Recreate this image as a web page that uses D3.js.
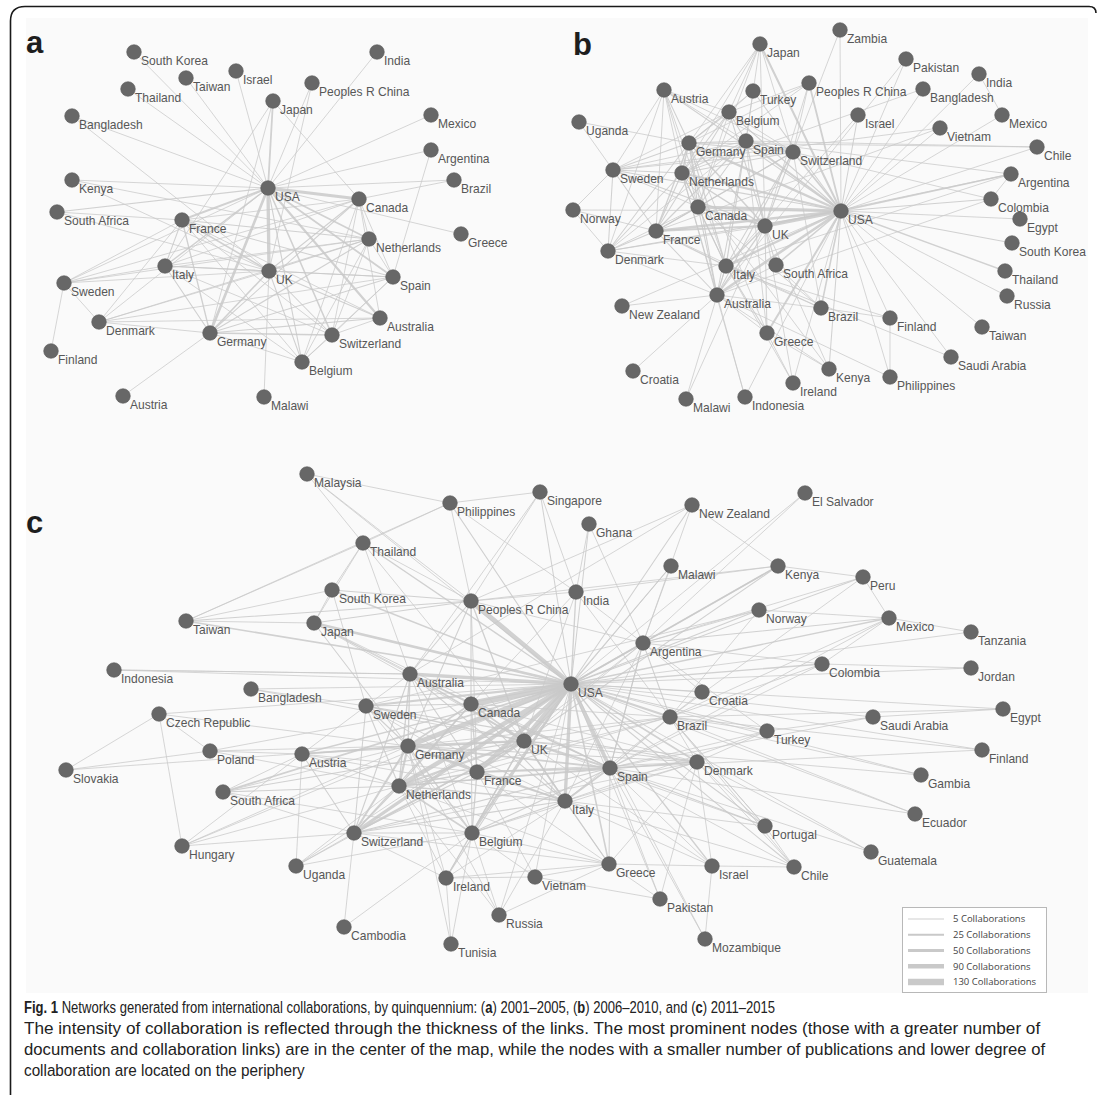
<!DOCTYPE html>
<html>
<head>
<meta charset="utf-8">
<script src="https://cdn.jsdelivr.net/npm/d3@7"></script>
<style>
  body { margin: 0; background: #fff; }
  svg { display: block; }
</style>
</head>
<body>
<svg id="fig" width="1098" height="1095"></svg>
<script>
// ---- Network layouts: [country, layoutX, layoutY] ----
const nodesA = [
  ["South Korea",9.4,1.2],["Taiwan",14.6,3.8],["Israel",19.6,3.1],["Thailand",8.8,4.9],
  ["Peoples R China",27.2,4.3],["India",33.7,1.2],["Japan",23.3,6.1],["Bangladesh",3.2,7.6],
  ["Mexico",39.1,7.5],["Argentina",39.1,11.0],["Kenya",3.2,14.0],["USA",22.8,14.8],
  ["Brazil",41.4,14.0],["Canada",31.9,15.9],["South Africa",1.7,17.2],["France",14.2,18.0],
  ["Netherlands",32.9,19.9],["Greece",42.1,19.4],["Italy",12.5,22.6],["UK",22.9,23.1],
  ["Spain",35.3,23.7],["Sweden",2.4,24.3],["Denmark",5.9,28.2],["Australia",34.0,27.8],
  ["Germany",17.0,29.3],["Switzerland",29.2,29.5],["Finland",1.1,31.1],["Belgium",26.2,32.2],
  ["Austria",8.3,35.6],["Malawi",22.4,35.7]
];

const nodesB = [
  ["Zambia",28.0,1.0],["Japan",20.0,2.4],["Pakistan",34.6,3.9],["India",41.9,5.4],
  ["Peoples R China",24.9,6.3],["Austria",10.4,7.0],["Turkey",19.3,7.1],["Bangladesh",36.3,6.9],
  ["Belgium",16.9,9.2],["Israel",29.8,9.5],["Mexico",44.2,9.5],["Uganda",1.9,10.2],
  ["Vietnam",38.0,10.8],["Germany",12.9,12.3],["Spain",18.6,12.1],["Switzerland",23.3,13.2],
  ["Chile",47.7,12.7],["Sweden",5.3,15.0],["Netherlands",12.2,15.3],["Argentina",45.1,15.4],
  ["Colombia",43.1,17.9],["Canada",13.8,18.7],["USA",28.1,19.1],["Norway",1.3,19.0],
  ["Egypt",46.0,19.9],["UK",20.5,20.6],["France",9.6,21.1],["South Korea",45.2,22.3],
  ["Denmark",4.8,23.1],["Italy",16.6,24.6],["South Africa",21.6,24.5],["Thailand",44.5,25.1],
  ["Australia",15.7,27.5],["Russia",44.7,27.6],["New Zealand",6.2,28.6],["Brazil",26.1,28.8],
  ["Finland",33.0,29.8],["Taiwan",42.2,30.7],["Greece",20.7,31.3],["Saudi Arabia",39.1,33.7],
  ["Croatia",7.3,35.1],["Kenya",26.9,34.9],["Philippines",33.0,35.7],["Ireland",23.3,36.3],
  ["Malawi",12.6,37.9],["Indonesia",18.5,37.7]
];

const nodesC = [
  ["Malaysia",25.7,1.4],["Philippines",40.0,4.3],["Singapore",49.0,3.2],["Thailand",31.3,8.3],
  ["South Korea",28.2,13.0],["Peoples R China",42.1,14.1],["Taiwan",13.6,16.1],["Japan",26.4,16.3],
  ["Indonesia",6.4,21.0],["Australia",36.0,21.4],["Bangladesh",20.1,22.9],["Sweden",31.6,24.6],
  ["Canada",42.1,24.4],["Czech Republic",10.9,25.4],["New Zealand",64.2,4.5],["El Salvador",75.5,3.3],
  ["Ghana",53.9,6.4],["Malawi",62.1,10.6],["Kenya",72.8,10.6],["Peru",81.3,11.7],
  ["India",52.6,13.2],["Norway",70.9,15.0],["Mexico",83.9,15.8],["Tanzania",92.1,17.2],
  ["Argentina",59.3,18.3],["Colombia",77.2,20.4],["Jordan",92.1,20.8],["USA",52.1,22.4],
  ["Croatia",65.2,23.2],["Egypt",95.3,24.9],["Brazil",62.0,25.7],["Saudi Arabia",82.3,25.7],
  ["Poland",16.0,29.1],["Austria",25.2,29.4],["Germany",35.8,28.6],["UK",47.4,28.1],
  ["Slovakia",1.6,31.0],["France",42.7,31.2],["South Africa",17.3,33.2],["Netherlands",34.9,32.6],
  ["Turkey",71.7,27.1],["Finland",93.2,29.0],["Spain",56.0,30.8],["Denmark",64.7,30.2],
  ["Gambia",87.1,31.5],["Italy",51.5,34.1],["Ecuador",86.5,35.4],["Portugal",71.5,36.6],
  ["Guatemala",82.1,39.2],["Hungary",13.2,38.6],["Switzerland",30.4,37.3],["Belgium",42.2,37.3],
  ["Greece",55.9,40.4],["Israel",66.2,40.6],["Chile",74.4,40.7],["Uganda",24.6,40.6],
  ["Ireland",39.6,41.8],["Vietnam",48.5,41.7],["Pakistan",61.0,43.9],["Cambodia",29.4,46.7],
  ["Russia",44.9,45.5],["Tunisia",40.1,48.4],["Mozambique",65.5,47.9]
];

// ---- Collaboration links: [country, country, number of collaborations] ----
const linksA = [
  ["USA","UK",60],["USA","Canada",50],["USA","Germany",45],["USA","France",30],["USA","Japan",25],
  ["USA","Spain",25],["USA","Australia",35],["USA","Netherlands",20],["USA","Switzerland",20],
  ["USA","Italy",15],["USA","Belgium",10],["USA","South Korea",5],["USA","Thailand",5],["USA","Taiwan",5],
  ["USA","Israel",5],["USA","Peoples R China",5],["USA","India",5],["USA","Mexico",5],["USA","Argentina",5],
  ["USA","Brazil",5],["USA","Kenya",5],["USA","South Africa",8],["USA","Bangladesh",5],["USA","Greece",5],
  ["USA","Sweden",5],["USA","Denmark",5],["UK","Malawi",5],
  ["UK","France",20],["UK","Germany",20],["UK","Italy",10],["UK","Netherlands",10],["UK","Spain",10],
  ["UK","Canada",10],["UK","Australia",10],["UK","Switzerland",8],["UK","Belgium",8],["UK","Sweden",5],
  ["UK","Denmark",5],["UK","Kenya",5],["UK","South Africa",5],["UK","Bangladesh",5],
  ["Germany","France",15],["Germany","Italy",10],["Germany","Netherlands",10],["Germany","Spain",8],
  ["Germany","Switzerland",15],["Germany","Canada",8],["Germany","Australia",8],["Germany","Austria",5],
  ["Germany","Denmark",5],["Germany","Japan",5],["Germany","Belgium",5],
  ["France","Italy",8],["France","Spain",8],["France","Netherlands",8],["France","Switzerland",5],
  ["France","Belgium",5],["France","Canada",5],["France","Sweden",5],["France","Denmark",5],
  ["France","South Africa",5],["France","Australia",5],
  ["Italy","Spain",5],["Italy","Netherlands",5],["Italy","Canada",5],["Italy","Switzerland",5],
  ["Italy","Sweden",5],["Italy","Japan",5],["Italy","Belgium",5],
  ["Canada","Netherlands",5],["Canada","Belgium",5],["Canada","Switzerland",5],["Canada","Spain",5],
  ["Canada","Australia",5],["Canada","Sweden",5],["Canada","Brazil",5],["Canada","Japan",5],
  ["Netherlands","Spain",5],["Netherlands","Belgium",5],["Netherlands","Switzerland",5],
  ["Netherlands","Sweden",5],["Netherlands","Denmark",5],["Netherlands","Kenya",5],
  ["Spain","Switzerland",5],["Spain","Belgium",5],["Spain","Argentina",5],["Spain","Denmark",5],
  ["Australia","Switzerland",5],["Australia","Denmark",5],["Switzerland","Belgium",5],
  ["Sweden","Denmark",5],["Sweden","Finland",5],["Peoples R China","UK",5]
];

const linksB = [
  ["USA","UK",60],["USA","Canada",55],["USA","France",40],["USA","Germany",40],["USA","Australia",45],
  ["USA","Italy",35],["USA","Spain",30],["USA","Netherlands",30],["USA","Switzerland",25],["USA","Japan",30],
  ["USA","Peoples R China",25],["USA","Greece",30],["USA","Brazil",20],["USA","Argentina",20],
  ["USA","South Africa",20],["USA","Thailand",15],["USA","Sweden",10],["USA","Denmark",10],["USA","Belgium",10],
  ["USA","Austria",8],["USA","Turkey",8],["USA","Zambia",5],["USA","Pakistan",5],["USA","Bangladesh",5],
  ["USA","Israel",8],["USA","Mexico",5],["USA","Vietnam",5],["USA","Chile",5],["USA","Colombia",8],
  ["USA","Egypt",5],["USA","South Korea",8],["USA","Russia",5],["USA","New Zealand",5],["USA","Finland",5],
  ["USA","Taiwan",5],["USA","Saudi Arabia",5],["USA","Kenya",8],["USA","Philippines",5],["USA","Ireland",5],
  ["USA","Indonesia",5],["USA","India",5],["USA","Norway",5],
  ["UK","France",30],["UK","Germany",20],["UK","Italy",15],["UK","Spain",15],["UK","Netherlands",15],
  ["UK","Canada",15],["UK","Australia",15],["UK","Switzerland",10],["UK","Sweden",8],["UK","Belgium",8],
  ["UK","South Africa",8],["UK","Greece",8],["UK","Kenya",5],["UK","Ireland",5],["UK","Denmark",5],
  ["UK","Malawi",5],["UK","Peoples R China",5],["UK","Japan",5],["UK","Argentina",5],
  ["France","Germany",15],["France","Italy",15],["France","Spain",12],["France","Netherlands",10],
  ["France","Canada",15],["France","Sweden",8],["France","Denmark",8],["France","Switzerland",8],
  ["France","Belgium",8],["France","Austria",5],["France","Australia",8],["France","Norway",5],
  ["France","Vietnam",5],["France","Brazil",5],
  ["Germany","Netherlands",15],["Germany","Spain",12],["Germany","Italy",12],["Germany","Sweden",8],
  ["Germany","Austria",8],["Germany","Belgium",8],["Germany","Switzerland",10],["Germany","Denmark",8],
  ["Germany","Canada",10],["Germany","Australia",10],["Germany","Japan",5],["Germany","Peoples R China",5],
  ["Germany","Turkey",5],["Germany","Greece",5],["Germany","Uganda",5],
  ["Spain","Italy",12],["Spain","Netherlands",8],["Spain","Belgium",8],["Spain","Switzerland",8],
  ["Spain","Austria",5],["Spain","Canada",8],["Spain","Australia",8],["Spain","Sweden",5],["Spain","Japan",5],
  ["Spain","Turkey",5],["Spain","Chile",5],["Spain","Argentina",5],["Spain","Colombia",5],["Spain","Denmark",5],
  ["Netherlands","Italy",8],["Netherlands","Sweden",8],["Netherlands","Denmark",8],["Netherlands","Canada",8],
  ["Netherlands","Australia",8],["Netherlands","Switzerland",8],["Netherlands","Belgium",8],
  ["Netherlands","Austria",5],["Netherlands","Peoples R China",5],["Netherlands","Kenya",5],
  ["Netherlands","Indonesia",5],
  ["Italy","Canada",8],["Italy","Australia",8],["Italy","Switzerland",8],["Italy","Denmark",5],
  ["Italy","Greece",8],["Italy","Brazil",5],["Italy","Ireland",5],["Italy","Israel",5],["Italy","Austria",5],
  ["Italy","Finland",5],["Italy","Argentina",5],
  ["Sweden","Denmark",8],["Sweden","Uganda",5],["Sweden","Austria",5],["Sweden","Canada",5],
  ["Sweden","Norway",5],["Sweden","Switzerland",5],["Sweden","Belgium",5],["Sweden","Vietnam",5],
  ["Denmark","Norway",5],["Denmark","Canada",5],["Denmark","Austria",5],["Denmark","Australia",5],
  ["Austria","Belgium",5],["Austria","Canada",5],["Austria","Switzerland",5],
  ["Canada","Australia",10],["Canada","Switzerland",8],["Canada","Belgium",5],["Canada","Japan",5],
  ["Canada","Brazil",5],
  ["Australia","New Zealand",5],["Australia","Croatia",5],["Australia","Greece",5],["Australia","Switzerland",8],
  ["Australia","Kenya",5],["Australia","Indonesia",5],["Australia","Pakistan",5],["Australia","Philippines",5],
  ["Australia","Brazil",5],
  ["Switzerland","Belgium",5],["Switzerland","Japan",5],["Switzerland","Peoples R China",5],
  ["Switzerland","Zambia",5],["Switzerland","Brazil",5],
  ["Japan","Belgium",5],["Japan","Netherlands",5],["Peoples R China","Belgium",5],["Turkey","Belgium",5],
  ["Brazil","Finland",5],["Finland","Philippines",5],["Greece","Kenya",5],["South Africa","Brazil",5],
  ["South Africa","Australia",5],["Malawi","Italy",5],["India","Mexico",5],["Bangladesh","Netherlands",5],
  ["Chile","Germany",5],["Argentina","Colombia",5],["Saudi Arabia","Italy",5],["Colombia","Australia",5],
  ["Greece","Ireland",5],["Greece","Spain",5]
];

const linksC = [
  ["USA","Canada",130],["USA","UK",125],["USA","Germany",100],["USA","Peoples R China",90],["USA","France",80],
  ["USA","Netherlands",85],["USA","Spain",70],["USA","Italy",60],["USA","Australia",60],["USA","Switzerland",60],
  ["USA","Japan",45],["USA","Belgium",40],["USA","Sweden",35],["USA","Brazil",35],["USA","Argentina",25],
  ["USA","Kenya",20],["USA","Denmark",20],["USA","Greece",20],["USA","South Africa",25],["USA","Taiwan",20],
  ["USA","South Korea",20],["USA","Thailand",15],["USA","India",15],["USA","Mexico",15],["USA","Colombia",15],
  ["USA","Austria",15],["USA","Israel",15],["USA","Ireland",10],["USA","Norway",10],["USA","Portugal",10],
  ["USA","Chile",10],["USA","Turkey",10],["USA","Philippines",10],["USA","Singapore",8],["USA","Malaysia",5],
  ["USA","Ghana",8],["USA","New Zealand",8],["USA","Malawi",8],["USA","Peru",8],["USA","Tanzania",5],
  ["USA","Jordan",5],["USA","Egypt",5],["USA","Saudi Arabia",5],["USA","Finland",5],["USA","Gambia",5],
  ["USA","Ecuador",5],["USA","Guatemala",5],["USA","Croatia",5],["USA","Indonesia",5],["USA","Bangladesh",5],
  ["USA","Czech Republic",5],["USA","Poland",5],["USA","Hungary",5],["USA","Uganda",5],["USA","Vietnam",5],
  ["USA","Pakistan",5],["USA","Mozambique",5],["USA","Russia",5],["USA","El Salvador",5],
  ["UK","Germany",40],["UK","France",35],["UK","Netherlands",35],["UK","Spain",30],["UK","Italy",25],
  ["UK","Canada",25],["UK","Australia",25],["UK","Switzerland",20],["UK","Belgium",15],["UK","Sweden",15],
  ["UK","Denmark",10],["UK","Ireland",10],["UK","Peoples R China",15],["UK","South Africa",10],["UK","Greece",8],
  ["UK","Brazil",8],["UK","Kenya",8],["UK","Austria",5],["UK","Portugal",5],["UK","Israel",5],["UK","Uganda",5],
  ["UK","Malawi",5],["UK","Argentina",5],["UK","India",5],["UK","Japan",5],
  ["Germany","France",30],["Germany","Netherlands",35],["Germany","Spain",25],["Germany","Italy",20],
  ["Germany","Switzerland",30],["Germany","Canada",20],["Germany","Austria",15],["Germany","Belgium",15],
  ["Germany","Sweden",10],["Germany","Denmark",10],["Germany","Australia",15],["Germany","Poland",5],
  ["Germany","Czech Republic",5],["Germany","Hungary",5],["Germany","South Africa",5],["Germany","Japan",8],
  ["Germany","Peoples R China",8],["Germany","Russia",5],["Germany","Ireland",5],["Germany","Tunisia",5],
  ["Germany","Slovakia",5],["Germany","Brazil",5],
  ["France","Netherlands",20],["France","Spain",25],["France","Italy",20],["France","Switzerland",15],
  ["France","Belgium",15],["France","Canada",15],["France","Australia",10],["France","Sweden",5],
  ["France","Denmark",5],["France","Greece",5],["France","Brazil",5],["France","Vietnam",5],["France","Austria",5],
  ["France","Peoples R China",5],["France","Argentina",5],
  ["Netherlands","Spain",20],["Netherlands","Italy",15],["Netherlands","Switzerland",15],["Netherlands","Belgium",20],
  ["Netherlands","Canada",15],["Netherlands","Australia",15],["Netherlands","Sweden",10],["Netherlands","Denmark",8],
  ["Netherlands","South Africa",8],["Netherlands","Austria",8],["Netherlands","Hungary",5],["Netherlands","Ireland",5],
  ["Netherlands","Poland",5],["Netherlands","Greece",5],["Netherlands","Uganda",5],["Netherlands","Brazil",5],
  ["Spain","Italy",25],["Spain","Portugal",8],["Spain","Greece",8],["Spain","Belgium",10],["Spain","Switzerland",10],
  ["Spain","Canada",10],["Spain","Australia",8],["Spain","Denmark",8],["Spain","Brazil",8],["Spain","Argentina",8],
  ["Spain","Colombia",5],["Spain","Mexico",5],["Spain","Chile",5],["Spain","Israel",5],["Spain","Turkey",5],
  ["Spain","Mozambique",5],["Spain","Ecuador",5],["Spain","Pakistan",5],
  ["Italy","Switzerland",10],["Italy","Belgium",10],["Italy","Canada",10],["Italy","Greece",8],["Italy","Australia",8],
  ["Italy","Denmark",5],["Italy","Israel",5],["Italy","Brazil",5],["Italy","Portugal",5],["Italy","Chile",5],
  ["Italy","Ireland",5],["Italy","Russia",5],["Italy","Sweden",5],["Italy","Austria",5],
  ["Canada","Australia",15],["Canada","Switzerland",10],["Canada","Sweden",8],["Canada","Belgium",8],
  ["Canada","Peoples R China",10],["Canada","Japan",5],["Canada","Denmark",5],["Canada","Brazil",5],["Canada","India",5],
  ["Australia","Switzerland",10],["Australia","Sweden",5],["Australia","Peoples R China",8],["Australia","Japan",5],
  ["Australia","Thailand",5],["Australia","Indonesia",5],["Australia","New Zealand",5],["Australia","Belgium",5],
  ["Switzerland","Belgium",10],["Switzerland","Austria",8],["Switzerland","Sweden",8],["Switzerland","Uganda",5],
  ["Switzerland","Cambodia",5],["Switzerland","South Africa",5],["Switzerland","Hungary",5],["Switzerland","Ireland",5],
  ["Switzerland","Denmark",5],["Switzerland","Greece",5],
  ["Belgium","Ireland",5],["Belgium","Russia",5],["Belgium","Denmark",5],["Belgium","Vietnam",5],["Belgium","Sweden",5],
  ["Belgium","Tunisia",5],
  ["Sweden","Denmark",8],["Sweden","Austria",5],["Sweden","South Korea",5],["Sweden","Norway",5],
  ["Peoples R China","Japan",8],["Peoples R China","Taiwan",8],["Peoples R China","South Korea",8],
  ["Peoples R China","Thailand",5],["Peoples R China","Philippines",5],["Peoples R China","Singapore",5],
  ["Peoples R China","India",5],["Peoples R China","Malaysia",5],["Peoples R China","Argentina",5],
  ["Peoples R China","Kenya",5],
  ["Japan","Taiwan",5],["Japan","South Korea",5],["Japan","Thailand",5],["Japan","Spain",5],
  ["Taiwan","Thailand",5],["Taiwan","South Korea",5],["Taiwan","Philippines",5],
  ["Thailand","Philippines",5],["Thailand","Malaysia",5],["Thailand","South Korea",5],["Thailand","UK",5],
  ["Malaysia","Philippines",5],["Philippines","Singapore",5],["Philippines","India",5],["Singapore","Australia",5],
  ["Singapore","India",5],["Indonesia","Australia",5],["Bangladesh","UK",5],["Bangladesh","Sweden",5],
  ["Czech Republic","Slovakia",5],["Czech Republic","Hungary",5],["Czech Republic","Poland",5],["Slovakia","Poland",5],
  ["Poland","Austria",5],["Hungary","Austria",5],["South Africa","Austria",5],["South Africa","Belgium",5],
  ["Uganda","Austria",5],["Uganda","Belgium",5],["Ireland","Tunisia",5],["Russia","Netherlands",5],
  ["Vietnam","Greece",5],["Vietnam","Pakistan",5],["Vietnam","Ireland",5],["Greece","Pakistan",5],["Greece","Israel",5],
  ["Greece","Belgium",5],["Greece","Ireland",5],["Israel","Chile",5],["Israel","Denmark",5],["Chile","Denmark",5],
  ["Chile","Brazil",5],["Portugal","Denmark",5],["Portugal","Brazil",5],["Portugal","Chile",5],["Guatemala","Denmark",5],
  ["Guatemala","Spain",5],["Ecuador","Brazil",5],["Gambia","UK",5],["Gambia","Brazil",5],["Finland","Brazil",5],
  ["Finland","Spain",5],["Egypt","Brazil",5],["Egypt","Saudi Arabia",5],["Saudi Arabia","Spain",5],
  ["Saudi Arabia","Turkey",5],["Turkey","Brazil",5],["Turkey","Denmark",5],["Turkey","Italy",5],["Turkey","Argentina",5],
  ["Croatia","Brazil",5],["Croatia","Argentina",5],["Colombia","Jordan",5],["Colombia","Argentina",5],
  ["Colombia","Brazil",5],["Colombia","Mexico",5],["Mexico","Tanzania",5],["Mexico","Peru",5],["Mexico","Argentina",8],
  ["Mexico","Brazil",5],["Peru","Kenya",5],["Peru","Argentina",5],["Peru","Brazil",5],["Norway","Argentina",5],
  ["Norway","Brazil",5],["Norway","Mexico",5],["Kenya","New Zealand",5],["Kenya","Argentina",10],["Kenya","India",5],
  ["Malawi","Argentina",5],["New Zealand","Argentina",5],["New Zealand","Peoples R China",5],
  ["El Salvador","Argentina",5],["Ghana","India",5],["Ghana","Argentina",5],["India","Argentina",5],["India","Brazil",5],
  ["Argentina","Brazil",8],["Argentina","Spain",8],["Argentina","Italy",5],["Brazil","Denmark",5],["Brazil","Portugal",5],
  ["Denmark","Greece",5],["Mozambique","Israel",5],["Pakistan","Denmark",5],["Cambodia","Belgium",5],["Russia","Greece",5]
];

// ---- Legend and caption ----
const legendValues = [5, 25, 50, 90, 130];
const legendLabels = ["5 Collaborations","25 Collaborations","50 Collaborations","90 Collaborations","130 Collaborations"];
const panelLetters = ["a","b","c"];
const captionLines = [
  [["Fig. 1",true],[" Networks generated from international collaborations, by quinquennium: (",false],["a",true],
   [") 2001–2005, (",false],["b",true],[") 2006–2010, and (",false],["c",true],[") 2011–2015",false]],
  [["The intensity of collaboration is reflected through the thickness of the links. The most prominent nodes (those with a greater number of",false]],
  [["documents and collaboration links) are in the center of the map, while the nodes with a smaller number of publications and lower degree of",false]],
  [["collaboration are located on the periphery",false]]
];

// ---- Drawing ----
const svg = d3.select("#fig");

// outer frame with rounded top-left corner
svg.append("path")
  .attr("d", "M10.5,1095 V21 Q10.5,6.5 25,6.5 H1089 Q1096,6.5 1096,13")
  .attr("fill", "none").attr("stroke", "#1a1a1a").attr("stroke-width", 1.6);

// light figure background
svg.append("rect")
  .attr("x", 26).attr("y", 18).attr("width", 1062).attr("height", 975)
  .attr("fill", "#fafafa");

const widthScale = d3.scaleLinear().domain([5, 130]).range([0.9, 6.4]);
const linkColor = "#c9c9c9";

const panels = [
  { nodes: nodesA, links: linksA, origin: [40, 40], letter: [26, 53] },
  { nodes: nodesB, links: linksB, origin: [560, 20], letter: [573, 55] },
  { nodes: nodesC, links: linksC, origin: [50, 460], letter: [26, 533] }
];

panels.forEach((p, i) => {
  const x = d3.scaleLinear().domain([0, 100]).range([p.origin[0], p.origin[0] + 1000]);
  const y = d3.scaleLinear().domain([0, 100]).range([p.origin[1], p.origin[1] + 1000]);
  const pos = new Map(p.nodes.map(d => [d[0], d]));
  const g = svg.append("g").attr("class", "panel-" + panelLetters[i]);

  const links = p.links.slice().sort((a, b) => a[2] - b[2]);
  g.append("g").selectAll("line").data(links).join("line")
    .attr("x1", d => x(pos.get(d[0])[1])).attr("y1", d => y(pos.get(d[0])[2]))
    .attr("x2", d => x(pos.get(d[1])[1])).attr("y2", d => y(pos.get(d[1])[2]))
    .attr("stroke", linkColor).attr("stroke-opacity", 0.85)
    .attr("stroke-width", d => widthScale(d[2]))
    .attr("stroke-linecap", "round");

  const nodeG = g.append("g").selectAll("g").data(p.nodes).join("g")
    .attr("transform", d => `translate(${x(d[1])},${y(d[2])})`);
  nodeG.append("circle").attr("r", 7.3)
    .attr("fill", "#676767").attr("stroke", "#5a5a5a").attr("stroke-width", 0.6);
  nodeG.append("text").text(d => d[0])
    .attr("transform", "translate(7,12.5) scale(0.9,1)")
    .attr("font-family", "'Liberation Sans', Arial, sans-serif")
    .attr("font-size", 13.4).attr("fill", "#575757");

  svg.append("text").text(panelLetters[i])
    .attr("x", p.letter[0]).attr("y", p.letter[1])
    .attr("font-family", "'Liberation Sans', Arial, sans-serif")
    .attr("font-weight", "bold").attr("font-size", 31).attr("fill", "#1e1e1e");
});

// legend
const lg = svg.append("g").attr("class", "legend");
lg.append("rect").attr("x", 902.5).attr("y", 907.5).attr("width", 144).attr("height", 85)
  .attr("fill", "#fff").attr("stroke", "#b8b8b8").attr("stroke-width", 1);
const ly = d3.scalePoint().domain(legendValues).range([919, 982]);
lg.selectAll("line").data(legendValues).join("line")
  .attr("x1", 908).attr("x2", 944)
  .attr("y1", d => ly(d)).attr("y2", d => ly(d))
  .attr("stroke", linkColor).attr("stroke-width", d => widthScale(d));
lg.selectAll("text").data(legendValues).join("text")
  .text((d, i) => legendLabels[i])
  .attr("x", 953).attr("y", d => ly(d) + 3.3)
  .attr("font-family", "'Open Sans', sans-serif").attr("font-size", 9.5).attr("fill", "#444");

// caption: each line condensed horizontally to its set width
const capY = [1013, 1034, 1055, 1076];
const capW = [752, 1017, 1022, 281];
captionLines.forEach((parts, i) => {
  const t = svg.append("text")
    .attr("font-family", "'Liberation Sans', Arial, sans-serif")
    .attr("font-size", 17).attr("fill", "#222");
  parts.forEach(([s, bold]) => {
    t.append("tspan").text(s).attr("font-weight", bold ? "bold" : "normal");
  });
  const w = t.node().getComputedTextLength();
  t.attr("transform", `translate(24,${capY[i]}) scale(${capW[i] / w},1)`);
});
</script>
</body>
</html>
